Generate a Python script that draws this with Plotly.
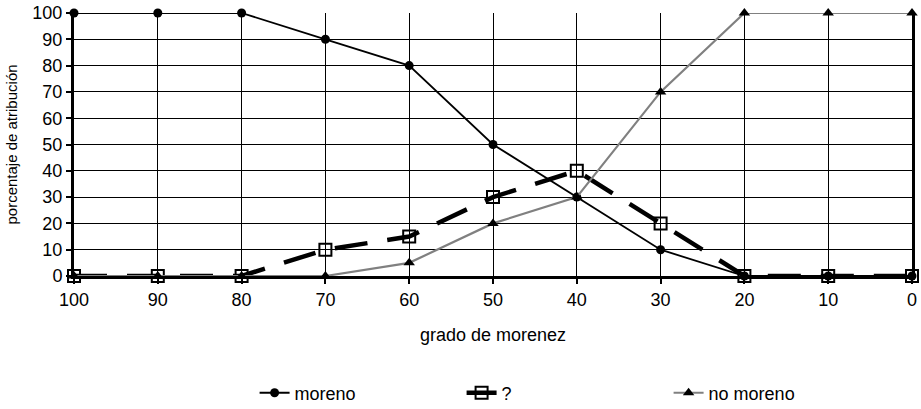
import plotly.graph_objects as go

grado = [100, 90, 80, 70, 60, 50, 40, 30, 20, 10, 0]
moreno = [100, 100, 100, 90, 80, 50, 30, 10, 0, 0, 0]
interrogante = [0, 0, 0, 10, 15, 30, 40, 20, 0, 0, 0]
no_moreno = [0, 0, 0, 0, 5, 20, 30, 70, 100, 100, 100]
y_ticks = list(range(0, 101, 10))
x_ticks = list(range(0, 101, 10))

FONT = "Liberation Sans, Arial, sans-serif"

fig = go.Figure()
fig.add_trace(go.Scatter(
    x=grado, y=moreno, name="moreno", mode="lines+markers",
    line=dict(color="black", width=1.8),
    marker=dict(symbol="circle", size=9, color="black"),
    cliponaxis=False,
))
fig.add_trace(go.Scatter(
    x=grado, y=interrogante, name="?", mode="lines+markers",
    line=dict(color="black", width=4.5, dash="33px,20px"),
    marker=dict(symbol="square-open", size=12, color="black", line=dict(width=2, color="black")),
    cliponaxis=False,
))
fig.add_trace(go.Scatter(
    x=grado, y=no_moreno, name="no moreno", mode="lines+markers",
    line=dict(color="#808080", width=2.2),
    marker=dict(symbol="triangle-up", size=10, color="black"),
    cliponaxis=False,
))

fig.update_layout(
    width=921, height=409,
    margin=dict(l=74, r=9, t=13, b=133, autoexpand=False),
    paper_bgcolor="white", plot_bgcolor="white",
    font=dict(family=FONT, size=18, color="black"),
    showlegend=True,
    legend=dict(
        orientation="h", x=0.2155, xanchor="left", y=-0.445, yanchor="middle",
        font=dict(size=18), entrywidth=162, entrywidthmode="pixels",
        bgcolor="rgba(0,0,0,0)",
    ),
    xaxis=dict(
        range=[100, 0], tickvals=x_ticks, ticktext=[str(v) for v in x_ticks],
        showgrid=True, gridcolor="black", gridwidth=1,
        showline=True, linecolor="black", linewidth=3, mirror=False,
        ticks="outside", ticklen=5, tickwidth=1.5, tickcolor="black",
        zeroline=False, automargin=False, tickfont=dict(size=18),
        ticklabeloverflow="allow",
        title=dict(text="grado de morenez", font=dict(size=18), standoff=20),
    ),
    yaxis=dict(
        range=[0, 100], tickvals=y_ticks, ticktext=[str(v) for v in y_ticks],
        showgrid=True, gridcolor="black", gridwidth=1,
        showline=True, linecolor="black", linewidth=3, mirror=True,
        ticks="outside", ticklen=5, tickwidth=1.5, tickcolor="black",
        zeroline=False, automargin=False, tickfont=dict(size=18),
        ticklabeloverflow="allow",
        title=dict(text="porcentaje de atribución", font=dict(size=15), standoff=12),
    ),
)

# remove the page's default body margin so the figure sits at the window origin
fig.write_html(
    "out.html",
    config={"displayModeBar": False},
    post_script="document.body.style.margin='0';document.body.style.overflow='hidden';",
)
